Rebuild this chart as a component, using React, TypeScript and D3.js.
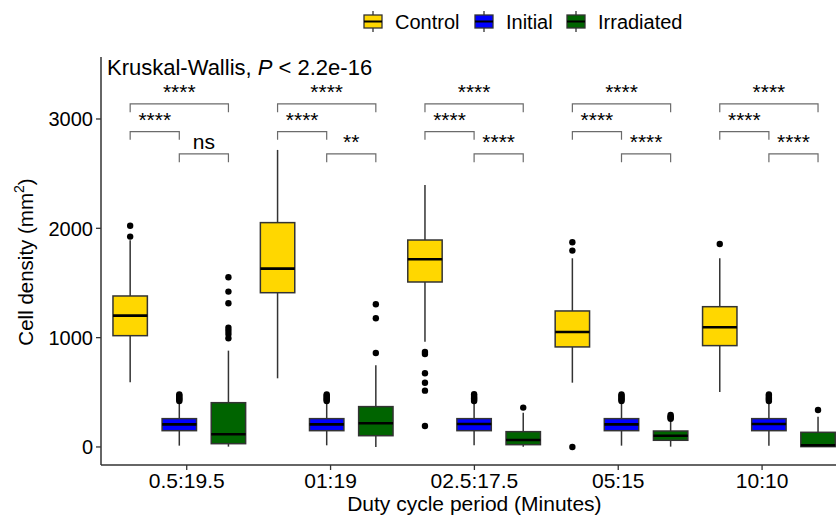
import React from "react";
import * as d3 from "d3";

// Duty-cycle groups along the x axis
const periods = ["0.5:19.5", "01:19", "02.5:17.5", "05:15", "10:10"];
const treatments = ["Control", "Initial", "Irradiated"];
const treatmentColors = ["#FFD700", "#0000FF", "#006400"];

// Box statistics per treatment, one entry per period: [lowWhisker, q1, median, q3, highWhisker]
const controlStats = [
  [592, 1018, 1201, 1381, 1890],
  [628, 1411, 1631, 2052, 2717],
  [963, 1509, 1717, 1893, 2396],
  [588, 915, 1052, 1244, 1726],
  [503, 927, 1095, 1283, 1726],
];
const initialStats = [
  [12, 149, 207, 259, 410],
  [15, 149, 207, 259, 405],
  [15, 149, 210, 259, 405],
  [12, 149, 207, 259, 405],
  [12, 149, 210, 259, 405],
];
const irradiatedStats = [
  [3, 30, 116, 405, 881],
  [0, 103, 217, 369, 747],
  [3, 21, 64, 140, 314],
  [3, 61, 103, 146, 247],
  [0, 3, 15, 134, 277],
];

// Outlying observations per treatment and period
const controlOutliers = [
  [2024, 1924],
  [],
  [869, 850, 674, 588, 515, 192],
  [1872, 1796, 0],
  [1857],
];
const initialOutliers = [
  [420, 432, 444, 456, 468, 480],
  [420, 432, 444, 456, 468, 480],
  [420, 432, 444, 456, 468, 482],
  [420, 432, 444, 456, 468, 480],
  [420, 432, 444, 456, 468, 480],
];
const irradiatedOutliers = [
  [1552, 1421, 1314, 1091, 1064, 1034, 994],
  [1305, 1177, 860],
  [360],
  [293, 280, 268, 258],
  [338],
];

// Pairwise comparison labels per period
const labelsControlIrradiated = ["****", "****", "****", "****", "****"];
const labelsControlInitial = ["****", "****", "****", "****", "****"];
const labelsInitialIrradiated = ["ns", "**", "****", "****", "****"];

// Bracket heights (data units) for the three comparison rows
const bracketLevels = [3138, 2885, 2681];
const bracketLeg = 76;

const yTicks = [0, 1000, 2000, 3000];

const statsBySeries = [controlStats, initialStats, irradiatedStats];
const outliersBySeries = [controlOutliers, initialOutliers, irradiatedOutliers];

const W = 836;
const H = 517;
const FONT = "Arial, 'Liberation Sans', Helvetica, sans-serif";

export default function App() {
  const axisLeft = 101;
  const axisBottom = 465;
  const axisTop = 57;

  const y = d3.scaleLinear().domain([-165, 3567]).range([axisBottom, axisTop]);

  // Group positions for the boxes
  const xGroup = d3.scaleBand<string>().domain(periods).range([105.6, 842.6]).padding(0);
  const xInner = d3.scaleBand<string>().domain(treatments).range([0, xGroup.bandwidth()]).padding(0);
  const boxW = xInner.bandwidth() * 0.7;
  const cx = (p: string, t: string) => (xGroup(p) ?? 0) + (xInner(t) ?? 0) + xInner.bandwidth() / 2;

  // Positions of the category ticks and labels along the x axis
  const xAxis = d3.scaleBand<string>().domain(periods).range([114.8, 834]).padding(0);
  const tickX = (p: string) => (xAxis(p) ?? 0) + xAxis.bandwidth() / 2;

  const gray = "#333333";
  const bracketColor = "#6b6b6b";

  const brackets: { p: string; a: string; b: string; level: number; label: string }[] = [];
  periods.forEach((p, i) => {
    brackets.push({ p, a: "Control", b: "Irradiated", level: bracketLevels[0], label: labelsControlIrradiated[i] });
    brackets.push({ p, a: "Control", b: "Initial", level: bracketLevels[1], label: labelsControlInitial[i] });
    brackets.push({ p, a: "Initial", b: "Irradiated", level: bracketLevels[2], label: labelsInitialIrradiated[i] });
  });

  const legendItems = [
    { name: "Control", keyX: 364, textX: 395 },
    { name: "Initial", keyX: 475, textX: 506 },
    { name: "Irradiated", keyX: 567, textX: 598 },
  ];

  return (
    <svg
      width={W}
      height={H}
      viewBox={`0 0 ${W} ${H}`}
      style={{ position: "absolute", left: 0, top: 0, background: "#fff" }}
      fontFamily={FONT}
    >
      <rect x={0} y={0} width={W} height={H} fill="#fff" />

      {/* Legend */}
      {legendItems.map((it, i) => (
        <g key={it.name}>
          <line x1={it.keyX + 9} x2={it.keyX + 9} y1={11} y2={32} stroke={gray} strokeWidth={1.3} />
          <rect x={it.keyX} y={15} width={18} height={13} fill={treatmentColors[i]} stroke={gray} strokeWidth={1.3} />
          <line x1={it.keyX} x2={it.keyX + 18} y1={21.5} y2={21.5} stroke="#000" strokeWidth={2} />
          <text x={it.textX} y={29} fontSize={20} fill="#000">
            {it.name}
          </text>
        </g>
      ))}

      {/* Axes */}
      <line x1={axisLeft} x2={axisLeft} y1={axisTop} y2={axisBottom} stroke={gray} strokeWidth={1.5} />
      <line x1={axisLeft} x2={W} y1={axisBottom} y2={axisBottom} stroke={gray} strokeWidth={1.5} />
      {yTicks.map((t) => (
        <g key={t}>
          <line x1={axisLeft - 5} x2={axisLeft} y1={y(t)} y2={y(t)} stroke={gray} strokeWidth={1.3} />
          <text x={93} y={y(t)} dy="0.36em" textAnchor="end" fontSize={20} fill="#000">
            {t}
          </text>
        </g>
      ))}
      {periods.map((p) => (
        <g key={p}>
          <line x1={tickX(p)} x2={tickX(p)} y1={axisBottom} y2={axisBottom + 5} stroke={gray} strokeWidth={1.3} />
          <text x={tickX(p)} y={488} textAnchor="middle" fontSize={21} fill="#000">
            {p}
          </text>
        </g>
      ))}
      <text x={tickX(periods[2])} y={511} textAnchor="middle" fontSize={21} fill="#000">
        Duty cycle period (Minutes)
      </text>
      <text transform={`translate(33,${(axisTop + axisBottom) / 2 + 1}) rotate(-90)`} textAnchor="middle" fontSize={20.5} fill="#000">
        Cell density (mm
        <tspan fontSize={14} dy={-9}>2</tspan>
        <tspan dy={9}>)</tspan>
      </text>

      {/* Boxes */}
      {periods.map((p, gi) =>
        treatments.map((t, si) => {
          const [lo, q1, med, q3, hi] = statsBySeries[si][gi];
          const c = cx(p, t);
          return (
            <g key={`${p}-${t}`}>
              <line x1={c} x2={c} y1={y(hi)} y2={y(q3)} stroke={gray} strokeWidth={1.5} />
              <line x1={c} x2={c} y1={y(q1)} y2={y(lo)} stroke={gray} strokeWidth={1.5} />
              <rect
                x={c - boxW / 2}
                y={y(q3)}
                width={boxW}
                height={y(q1) - y(q3)}
                fill={treatmentColors[si]}
                stroke={gray}
                strokeWidth={1.5}
              />
              <line x1={c - boxW / 2} x2={c + boxW / 2} y1={y(med)} y2={y(med)} stroke="#000" strokeWidth={2.6} />
              {outliersBySeries[si][gi].map((v, k) => (
                <circle key={k} cx={c} cy={y(v)} r={3.2} fill="#000" />
              ))}
            </g>
          );
        })
      )}

      {/* Kruskal-Wallis annotation */}
      <text x={107} y={75} fontSize={22} fill="#000">
        Kruskal-Wallis, <tspan fontStyle="italic">P</tspan> &lt; 2.2e-16
      </text>

      {/* Pairwise comparison brackets */}
      {brackets.map((b, i) => {
        const x1 = cx(b.p, b.a);
        const x2 = cx(b.p, b.b);
        const yb = y(b.level);
        const yl = y(b.level - bracketLeg);
        return (
          <g key={i}>
            <path
              d={`M${x1},${yl}V${yb}H${x2}V${yl}`}
              fill="none"
              stroke={bracketColor}
              strokeWidth={1.2}
            />
            <text x={(x1 + x2) / 2} y={yb - 4.5} textAnchor="middle" fontSize={21} fill="#000">
              {b.label}
            </text>
          </g>
        );
      })}
    </svg>
  );
}
